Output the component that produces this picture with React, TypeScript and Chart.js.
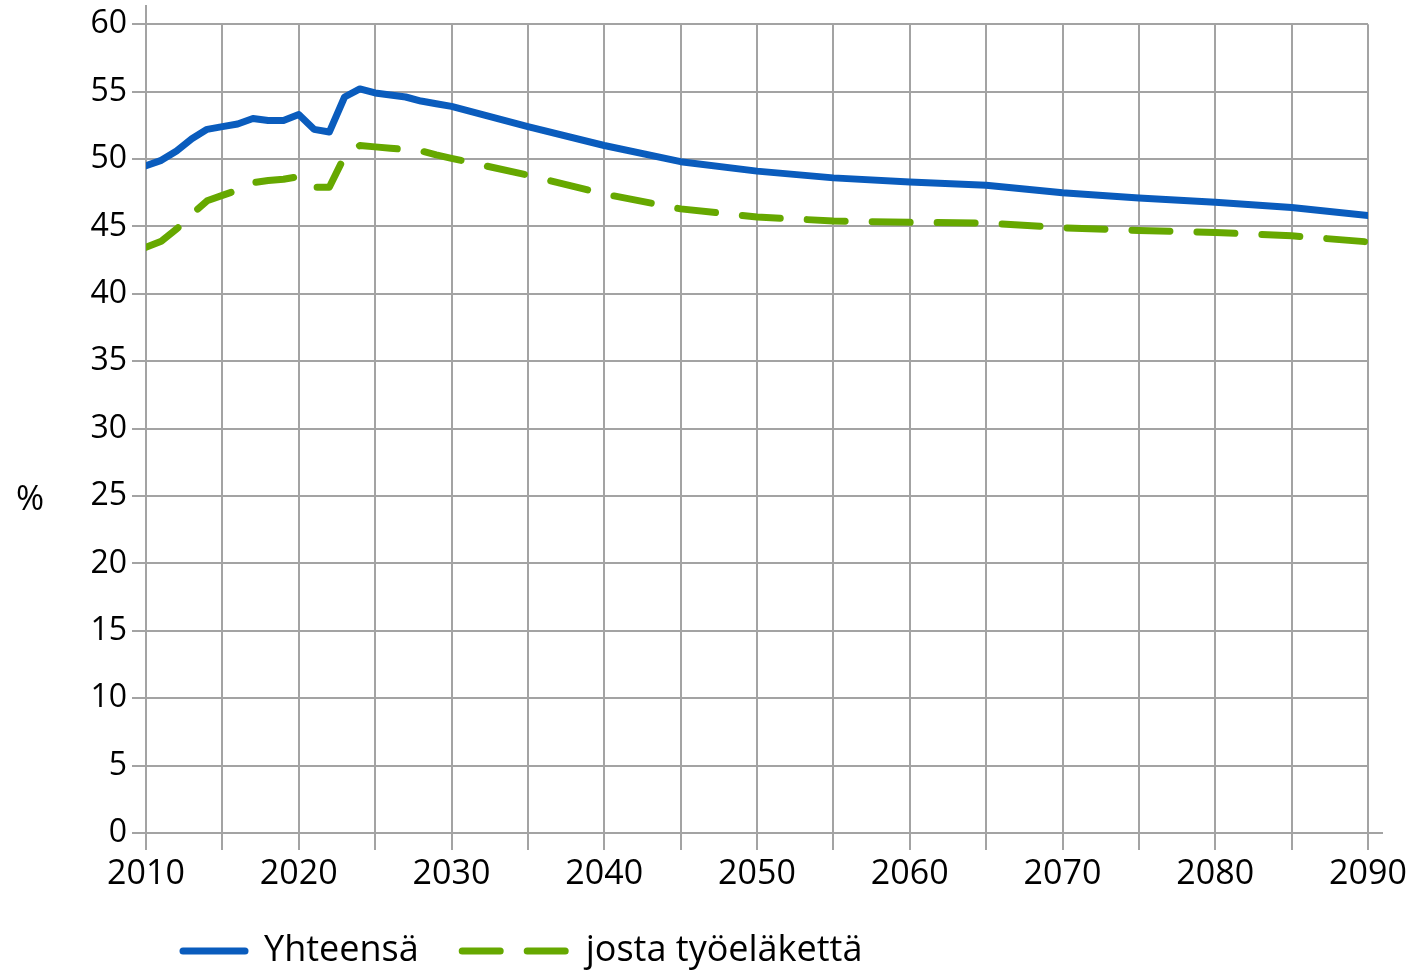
import React, { useEffect, useRef } from "react";
import { Chart, registerables } from "chart.js";

Chart.register(...registerables);

const years = [
  2010, 2011, 2012, 2013, 2014, 2015, 2016, 2017, 2018, 2019, 2020,
  2021, 2022, 2023, 2024, 2025, 2026, 2027, 2028, 2029, 2030,
  2035, 2040, 2045, 2050, 2055, 2060, 2065, 2070, 2075, 2080, 2085, 2090,
];

const totalValues = [
  49.5, 49.9, 50.6, 51.5, 52.2, 52.4, 52.6, 53.0, 52.85, 52.85, 53.3,
  52.2, 52.0, 54.6, 55.2, 54.9, 54.75, 54.6, 54.3, 54.1, 53.9,
  52.4, 51.0, 49.8, 49.1, 48.6, 48.3, 48.05, 47.5, 47.1, 46.8, 46.4, 45.8,
];

const earningsValues = [
  43.45, 43.9, 44.8, 45.9, 46.9, 47.3, 47.7, 48.25, 48.4, 48.5, 48.7,
  47.9, 47.9, 50.2, 51.0, 50.9, 50.8, 50.7, 50.6, 50.3, 50.05,
  48.8, 47.4, 46.3, 45.7, 45.4, 45.3, 45.25, 44.9, 44.7, 44.55, 44.3, 43.85,
];

const seriesLabels = ["Yhteensä", "josta työeläkettä"];
const yAxisLabel = "%";

const BLUE = "#0a5cbd";
const GREEN = "#66a800";
const GRID = "#a3a3a3";
const FONT = '"Open Sans", "DejaVu Sans", sans-serif';

const extrasPlugin = {
  id: "extras",
  afterDraw(chart: any) {
    const ctx = chart.ctx as CanvasRenderingContext2D;
    const area = chart.chartArea;
    ctx.save();
    // axis extensions
    ctx.strokeStyle = GRID;
    ctx.lineWidth = 2;
    ctx.beginPath();
    ctx.moveTo(area.left, area.top);
    ctx.lineTo(area.left, 5);
    ctx.moveTo(area.right, area.bottom);
    ctx.lineTo(area.right + 15, area.bottom);
    ctx.stroke();

    // y axis title
    ctx.fillStyle = "#000";
    ctx.font = `34px ${FONT}`;
    ctx.textAlign = "center";
    ctx.textBaseline = "middle";
    ctx.fillText(yAxisLabel, 30, (area.top + area.bottom) / 2 + 72);

    // legend
    const ly = 951;
    ctx.font = `36px ${FONT}`;
    ctx.textAlign = "left";
    ctx.lineCap = "round";
    ctx.lineWidth = 7;
    ctx.strokeStyle = BLUE;
    ctx.beginPath();
    ctx.moveTo(183, ly);
    ctx.lineTo(245, ly);
    ctx.stroke();
    ctx.fillText(seriesLabels[0], 264, ly);
    const w1 = ctx.measureText(seriesLabels[0]).width;
    const gx = 264 + w1 + 40;
    ctx.strokeStyle = GREEN;
    ctx.beginPath();
    ctx.moveTo(gx + 3.5, ly);
    ctx.lineTo(gx + 41.5, ly);
    ctx.moveTo(gx + 68.5, ly);
    ctx.lineTo(gx + 106.5, ly);
    ctx.stroke();
    ctx.fillText(seriesLabels[1], gx + 127, ly);
    ctx.restore();
  },
};

export default function App() {
  const ref = useRef<HTMLCanvasElement>(null);

  useEffect(() => {
    if (!ref.current) return;
    const chart = new Chart(ref.current, {
      type: "line",
      data: {
        datasets: [
          {
            label: seriesLabels[0],
            data: years.map((x, i) => ({ x, y: totalValues[i] })),
            borderColor: BLUE,
            backgroundColor: BLUE,
            borderWidth: 7,
            pointRadius: 0,
            borderCapStyle: "round",
            borderJoinStyle: "round",
            tension: 0,
          },
          {
            label: seriesLabels[1],
            data: years.map((x, i) => ({ x, y: earningsValues[i] })),
            borderColor: GREEN,
            backgroundColor: GREEN,
            borderWidth: 7,
            borderDash: [38, 27],
            pointRadius: 0,
            borderCapStyle: "round",
            borderJoinStyle: "round",
            tension: 0,
          },
        ],
      },
      options: {
        animation: false,
        responsive: false,
        layout: { padding: { left: 0, top: 24, right: 51, bottom: 80 } },
        plugins: {
          legend: { display: false },
          tooltip: { enabled: false },
        },
        scales: {
          x: {
            type: "linear",
            min: 2010,
            max: 2090,
            afterFit: (s: any) => {
              s.height = 60;
            },
            ticks: {
              stepSize: 5,
              autoSkip: false,
              maxRotation: 0,
              padding: 4,
              color: "#000",
              font: { family: FONT, size: 34 },
              callback: (v: any) => (Number(v) % 10 === 0 ? String(v) : ""),
            },
            grid: { color: GRID, lineWidth: 2, tickLength: 17 },
            border: { color: GRID, width: 2 },
          },
          y: {
            min: 0,
            max: 60,
            afterFit: (s: any) => {
              s.width = 146;
            },
            ticks: {
              stepSize: 5,
              padding: 5,
              color: "#000",
              font: { family: FONT, size: 32 },
            },
            grid: { color: GRID, lineWidth: 2, tickLength: 14 },
            border: { color: GRID, width: 2 },
          },
        },
      },
      plugins: [extrasPlugin],
    });
    return () => chart.destroy();
  }, []);

  return (
    <div style={{ position: "fixed", left: 0, top: 0, width: 1419, height: 973, background: "#fff" }}>
      <canvas ref={ref} width={1419} height={973} style={{ width: 1419, height: 973 }} />
    </div>
  );
}
